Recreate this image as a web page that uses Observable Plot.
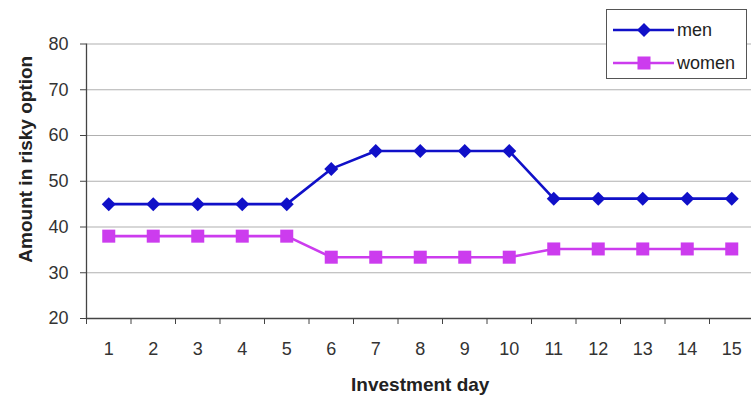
<!DOCTYPE html>
<html>
<head>
<meta charset="utf-8">
<script src="https://cdn.jsdelivr.net/npm/d3@7"></script>
<script src="https://cdn.jsdelivr.net/npm/@observablehq/plot@0.6"></script>
<style>
  html, body { margin: 0; padding: 0; background: #fff; }
  #wrap { position: relative; width: 751px; height: 398px; overflow: hidden; font-family: "Liberation Sans", Arial, sans-serif; }
  #legend { position: absolute; left: 606px; top: 9px; width: 141px; height: 70px; box-sizing: border-box; border: 1px solid #555; background: #fff; }
  .item { position: absolute; left: 0; height: 20px; display: flex; align-items: center; font-size: 18px; color: #222; }
  .item svg { display: block; }
</style>
</head>
<body>
<div id="wrap"></div>
<script>
const days = [1, 2, 3, 4, 5, 6, 7, 8, 9, 10, 11, 12, 13, 14, 15];
const men = [45, 45, 45, 45, 45, 52.7, 56.6, 56.6, 56.6, 56.6, 46.2, 46.2, 46.2, 46.2, 46.2];
const women = [38, 38, 38, 38, 38, 33.4, 33.4, 33.4, 33.4, 33.4, 35.2, 35.2, 35.2, 35.2, 35.2];
const seriesNames = ["men", "women"];
const seriesColors = ["#1010c8", "#cc3cee"];
const yTicks = [20, 30, 40, 50, 60, 70, 80];
const gridValues = [30, 40, 50, 60, 70, 80];
const xTitle = "Investment day";
const yTitle = "Amount in risky option";

const diamond = { draw(ctx, size) { const h = Math.sqrt(size / Math.PI); ctx.moveTo(0, -h); ctx.lineTo(h, 0); ctx.lineTo(0, h); ctx.lineTo(-h, 0); ctx.closePath(); } };
const square = { draw(ctx, size) { const h = Math.sqrt(size / Math.PI) * 0.93; ctx.rect(-h, -h, 2 * h, 2 * h); } };
const symbols = [diamond, square];

const data = [];
days.forEach((d, i) => {
  data.push({ day: d, value: men[i], series: seriesNames[0] });
  data.push({ day: d, value: women[i], series: seriesNames[1] });
});
const boundaries = [0.5, ...days.map(d => d + 0.5)];

const chart = Plot.plot({
  width: 751,
  height: 398,
  marginLeft: 86,
  marginRight: 0,
  marginTop: 43.5,
  marginBottom: 80,
  style: { fontFamily: "'Liberation Sans', Arial, sans-serif", fontSize: "18px", color: "#333", background: "#fff" },
  x: { type: "linear", domain: [0.5, 15.5], range: [86, 753.5], axis: null },
  y: { domain: [20, 80], range: [318, 43.5], axis: null },
  marks: [
    Plot.ruleY(gridValues, { x1: 0.5, x2: 15.5, stroke: "#b0b0b0", strokeWidth: 1.2 }),
    Plot.ruleX([0.5], { y1: 20, y2: 80, stroke: "#444", strokeWidth: 1.3 }),
    Plot.ruleY([20], { x1: 0.5, x2: 15.5, stroke: "#444", strokeWidth: 1.3 }),
    Plot.axisY({ ticks: yTicks, tickSize: 6, tickPadding: 12, label: null, stroke: "#444", fill: "#333" }),
    Plot.axisX({ ticks: boundaries, tickSize: 6, tickFormat: () => "", label: null, stroke: "#444" }),
    Plot.axisX({ ticks: days, tickSize: 0, tickPadding: 24, label: null, fill: "#333" }),
    Plot.line(data.filter(d => d.series === seriesNames[0]), { x: "day", y: "value", stroke: seriesColors[0], strokeWidth: 2.6 }),
    Plot.line(data.filter(d => d.series === seriesNames[1]), { x: "day", y: "value", stroke: seriesColors[1], strokeWidth: 2.6 }),
    Plot.dot(data.filter(d => d.series === seriesNames[0]), { x: "day", y: "value", r: 7, symbol: symbols[0], fill: seriesColors[0], stroke: "none" }),
    Plot.dot(data.filter(d => d.series === seriesNames[1]), { x: "day", y: "value", r: 7, symbol: symbols[1], fill: seriesColors[1], stroke: "none" }),
    Plot.text([xTitle], { x: 8, frameAnchor: "bottom", lineAnchor: "middle", dy: 66, fontWeight: "bold", fontSize: 19, fill: "#222" }),
    Plot.text([yTitle], { frameAnchor: "left", textAnchor: "middle", lineAnchor: "middle", dx: -61, dy: -22, rotate: -90, fontWeight: "bold", fontSize: 19, fill: "#222" })
  ]
});

const wrap = document.getElementById("wrap");
wrap.appendChild(chart);

// legend
const legend = document.createElement("div");
legend.id = "legend";
const itemTops = [10, 43];
seriesNames.forEach((name, i) => {
  const item = document.createElement("div");
  item.className = "item";
  item.style.top = itemTops[i] + "px";
  const svg = d3.create("svg").attr("width", 69).attr("height", 20);
  svg.append("line").attr("x1", 6).attr("x2", 67).attr("y1", 10).attr("y2", 10)
    .attr("stroke", seriesColors[i]).attr("stroke-width", 2.6);
  const p = d3.path();
  symbols[i].draw(p, Math.PI * 49);
  svg.append("path").attr("d", p.toString()).attr("transform", "translate(37,10)").attr("fill", seriesColors[i]);
  item.appendChild(svg.node());
  const span = document.createElement("span");
  span.textContent = name;
  span.style.marginLeft = "1px";
  item.appendChild(span);
  legend.appendChild(item);
});
wrap.appendChild(legend);
</script>
</body>
</html>
